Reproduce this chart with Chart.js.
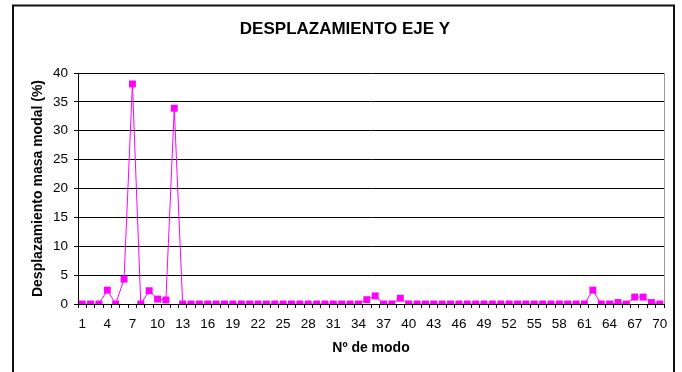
<!DOCTYPE html>
<html>
<head>
<meta charset="utf-8">
<script src="https://cdn.jsdelivr.net/npm/chart.js@4/dist/chart.umd.min.js"></script>
<style>
  html, body { margin: 0; padding: 0; background: #fff; }
  #wrap { width: 682px; height: 372px; }
</style>
</head>
<body>
<div id="wrap"><canvas id="chart" width="682" height="372"></canvas></div>
<script>
// modos 1..70
const modos = Array.from({ length: 70 }, (_, i) => String(i + 1));
// desplazamiento masa modal (%)
const masaModal = [
  0, 0, 0, 2.4, 0, 4.3, 38.1, 0, 2.3, 0.85,
  0.7, 33.9, 0, 0, 0, 0, 0, 0, 0, 0,
  0, 0, 0, 0, 0, 0, 0, 0, 0, 0,
  0, 0, 0, 0, 0.75, 1.4, 0, 0, 1.0, 0,
  0, 0, 0, 0, 0, 0, 0, 0, 0, 0,
  0, 0, 0, 0, 0, 0, 0, 0, 0, 0,
  0, 2.4, 0, 0, 0.25, 0, 1.2, 1.2, 0.25, 0
];
const yTicks = [0, 5, 10, 15, 20, 25, 30, 35, 40];

const FONT = 'Liberation Sans, Arial, sans-serif';

// marco exterior y borde derecho del área de trazado
const marco = {
  id: 'marco',
  afterDraw(chart) {
    const ctx = chart.ctx;
    const a = chart.chartArea;
    ctx.save();
    ctx.strokeStyle = '#111';
    ctx.lineWidth = 2;
    ctx.beginPath();
    ctx.moveTo(13, 380);
    ctx.lineTo(13, 5.5);
    ctx.lineTo(674, 5.5);
    ctx.lineTo(674, 380);
    ctx.stroke();
    ctx.strokeStyle = '#999';
    ctx.lineWidth = 1;
    ctx.beginPath();
    ctx.moveTo(Math.round(a.right) + 0.5, a.top);
    ctx.lineTo(Math.round(a.right) + 0.5, a.bottom);
    ctx.stroke();
    ctx.restore();
  }
};

new Chart(document.getElementById('chart').getContext('2d'), {
  type: 'line',
  data: {
    labels: modos,
    datasets: [{
      data: masaModal,
      borderColor: '#FF00FF',
      backgroundColor: '#FF00FF',
      borderWidth: 1,
      pointStyle: 'rect',
      pointRadius: 4.9,
      pointHoverRadius: 4.9,
      pointBorderWidth: 0,
      tension: 0
    }]
  },
  options: {
    responsive: false,
    animation: false,
    layout: { padding: { left: 26, right: 18, top: 0, bottom: 0 } },
    plugins: {
      legend: { display: false },
      tooltip: { enabled: false },
      title: {
        display: true,
        text: 'DESPLAZAMIENTO EJE Y',
        color: '#000',
        font: { family: FONT, size: 17, weight: 'bold' },
        padding: { top: 19, bottom: 33.6 }
      }
    },
    scales: {
      x: {
        offset: true,
        grid: { offset: true, drawOnChartArea: false, drawTicks: true, tickLength: 4, color: '#000' },
        border: { color: '#000', width: 1 },
        ticks: {
          autoSkip: false,
          maxRotation: 0,
          color: '#000',
          font: { family: FONT, size: 13.5 },
          padding: 8,
          callback: (v, i) => (i % 3 === 0 ? modos[i] : '')
        },
        title: {
          display: true,
          text: 'Nº de modo',
          color: '#000',
          font: { family: FONT, size: 14, weight: 'bold' },
          padding: { top: 0, bottom: 15 }
        },
        afterFit(s) { s.height = 68; }
      },
      y: {
        min: 0,
        max: 40,
        afterBuildTicks(s) { s.ticks = yTicks.map(v => ({ value: v })); },
        grid: { color: '#000', tickLength: 4, drawTicks: true },
        border: { color: '#000', width: 1 },
        ticks: {
          color: '#000',
          font: { family: FONT, size: 13.5 },
          padding: 6
        },
        title: {
          display: true,
          text: 'Desplazamiento masa modal (%)',
          color: '#000',
          font: { family: FONT, size: 14, weight: 'bold' },
          padding: { top: 3.6, bottom: 4 }
        },
        afterFit(s) { s.width = 52; }
      }
    }
  },
  plugins: [marco]
});
</script>
</body>
</html>
